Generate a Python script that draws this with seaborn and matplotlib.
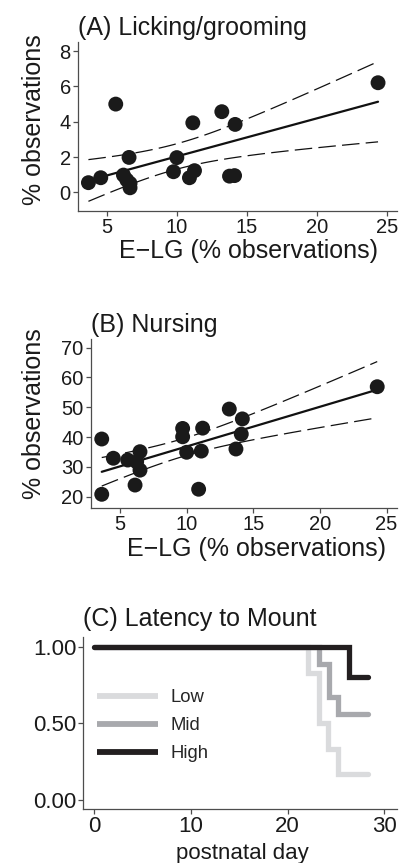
import matplotlib
matplotlib.use("Agg")
import matplotlib.pyplot as plt
import seaborn as sns
import pandas as pd
import numpy as np

# panel A: licking/grooming vs E-LG
lg_x = [3.69, 4.57, 5.64, 6.59, 6.19, 6.43, 6.66, 6.66, 10.0, 9.76,
        11.14, 11.26, 10.9, 13.21, 14.16, 13.76, 14.12, 24.36]
lg_y = [0.55, 0.83, 5.0, 1.98, 0.98, 0.70, 0.51, 0.26, 1.97, 1.17,
        3.94, 1.23, 0.83, 4.57, 3.85, 0.92, 0.95, 6.21]

# panel B: nursing vs E-LG
nu_x = [3.63, 3.63, 4.5, 5.58, 6.5, 6.25, 6.5, 6.13, 9.7, 9.7,
        10.0, 11.2, 11.1, 10.9, 13.2, 14.18, 14.1, 13.7, 24.3]
nu_y = [20.8, 39.35, 32.9, 32.3, 35.1, 31.7, 28.9, 23.9, 42.9, 40.1,
        34.9, 43.0, 35.3, 22.5, 49.4, 46.1, 41.0, 36.0, 56.9]

# panel C: survival curves (proportion not yet mounted)
groups = ["Low", "Mid", "High"]
low_day = [0, 22.1, 23.2, 24.2, 25.2, 28.3]
low_surv = [1.0, 0.83, 0.50, 0.33, 0.17, 0.17]
mid_day = [0, 23.2, 24.3, 25.2, 28.3]
mid_surv = [1.0, 0.89, 0.67, 0.56, 0.56]
high_day = [0, 26.3, 28.3]
high_surv = [1.0, 0.80, 0.80]
group_colors = {"Low": "#dadbdd", "Mid": "#a8a9ad", "High": "#231f20"}

T95 = 2.0  # t quantile, narrowed a bit to match the figure

sns.set_style("ticks")
plt.rcParams["font.family"] = ["Liberation Sans", "DejaVu Sans"]
plt.rcParams["axes.unicode_minus"] = True

fig = plt.figure(figsize=(4.03, 8.63), dpi=100)

SPINE = "#4d4d4d"
TXT = "#1a1a1a"


def style_axes(ax, tick_size):
    sns.despine(ax=ax)
    for s in ["left", "bottom"]:
        ax.spines[s].set_color(SPINE)
        ax.spines[s].set_linewidth(0.9)
    ax.tick_params(axis="both", direction="out", length=3.5, width=0.9,
                   color=SPINE, labelsize=tick_size, pad=1.5, labelcolor=TXT)


def reg_panel(ax, x, y, title, ylim, yticks):
    x = np.array(x)
    y = np.array(y)
    df = pd.DataFrame({"x": x, "y": y})
    # ols fit + 95% ci of the mean
    b1, b0 = np.polyfit(x, y, 1)
    n = len(x)
    resid = y - (b0 + b1 * x)
    s = np.sqrt(np.sum(resid ** 2) / (n - 2))
    sxx = np.sum((x - x.mean()) ** 2)
    xs = np.linspace(x.min(), x.max(), 100)
    fit = b0 + b1 * xs
    se = s * np.sqrt(1 / n + (xs - x.mean()) ** 2 / sxx)
    line_df = pd.DataFrame({"x": xs, "fit": fit,
                            "lo": fit - T95 * se, "hi": fit + T95 * se})

    sns.scatterplot(data=df, x="x", y="y", ax=ax, s=115, color=TXT,
                    edgecolor="none", zorder=3)
    sns.lineplot(data=line_df, x="x", y="fit", ax=ax, color="#111111", lw=1.6)
    for col in ["lo", "hi"]:
        sns.lineplot(data=line_df, x="x", y=col, ax=ax, color="#111111",
                     lw=0.9, linestyle=(0, (14, 5)))
    ax.set_xlim(2.93, 25.71)
    ax.set_ylim(*ylim)
    ax.set_xticks([5, 10, 15, 20, 25])
    ax.set_yticks(yticks)
    ax.set_title(title, loc="left", fontsize=18, pad=5, color=TXT)
    ax.set_xlabel("E\u2212LG (% observations)", fontsize=18, labelpad=2, color=TXT)
    ax.set_ylabel("% observations", fontsize=18, color=TXT)
    style_axes(ax, 14.5)


axA = fig.add_axes([0.193, 0.7558, 0.792, 0.1958])
reg_panel(axA, lg_x, lg_y, "(A) Licking/grooming", (-1.04, 8.53), [0, 2, 4, 6, 8])
axA.yaxis.set_label_coords(-0.1, 0.54)
axA.xaxis.label.set_x(0.534)

axB = fig.add_axes([0.225, 0.411, 0.759, 0.1958])
reg_panel(axB, nu_x, nu_y, "(B) Nursing", (16.1, 72.8), [20, 30, 40, 50, 60, 70])
axB.set_xlim(2.8, 25.75)
axB.yaxis.set_label_coords(-0.146, 0.56)
axB.xaxis.label.set_x(0.542)

# panel C
axC = fig.add_axes([0.2067, 0.0622, 0.778, 0.2])
km = pd.concat([
    pd.DataFrame({"day": low_day, "surv": low_surv, "group": "Low"}),
    pd.DataFrame({"day": mid_day, "surv": mid_surv, "group": "Mid"}),
    pd.DataFrame({"day": high_day, "surv": high_surv, "group": "High"}),
])
for g in groups:
    sub = km[km["group"] == g]
    sns.lineplot(data=sub, x="day", y="surv", ax=axC, color=group_colors[g],
                 lw=3.8, drawstyle="steps-post", estimator=None,
                 solid_capstyle="round", solid_joinstyle="miter", label=g)
leg = axC.legend(loc="upper left", bbox_to_anchor=(0.02, 0.74), frameon=False,
                 fontsize=13.3, handlelength=3.3, handletextpad=0.7,
                 labelspacing=0.6, borderaxespad=0)
for h in leg.get_lines():
    h.set_solid_capstyle("butt")
    h.set_linewidth(4.2)
axC.set_xlim(-1.14, 31.3)
axC.set_ylim(-0.061, 1.065)
axC.set_xticks([0, 10, 20, 30])
axC.set_yticks([0, 0.5, 1.0])
axC.set_yticklabels(["0.00", "0.50", "1.00"])
axC.set_title("(C) Latency to Mount", loc="left", fontsize=18, pad=8, color=TXT)
axC.set_xlabel("postnatal day", fontsize=16, labelpad=4, color=TXT)
axC.xaxis.label.set_x(0.506)
axC.set_ylabel("")
style_axes(axC, 16)

fig.savefig("out.png", dpi=100)
